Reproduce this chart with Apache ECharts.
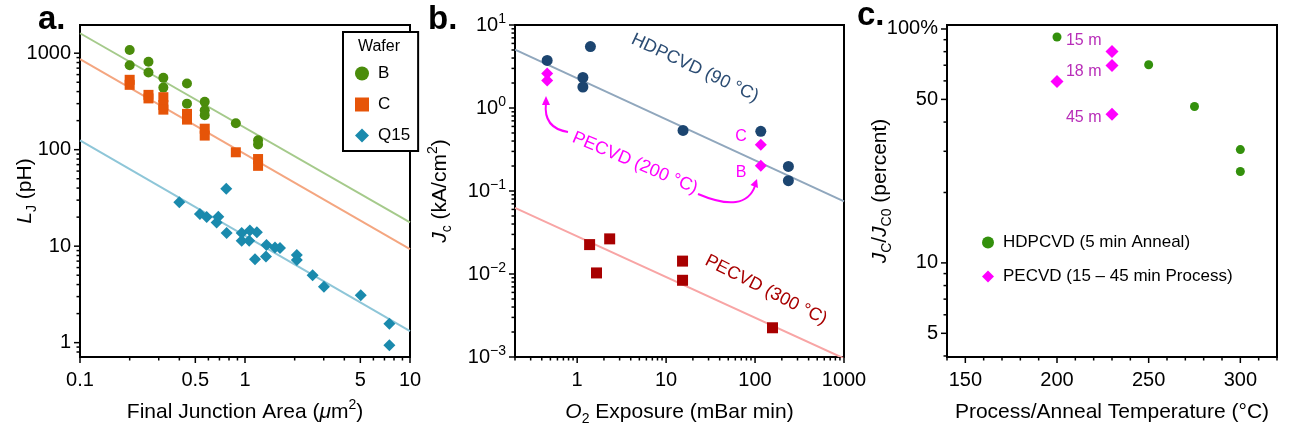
<!DOCTYPE html>
<html>
<head>
<meta charset="utf-8">
<title>Junction data</title>
<script src="https://cdn.jsdelivr.net/npm/echarts@6.0.0/dist/echarts.min.js"></script>
<style>
  html, body { margin: 0; padding: 0; background: #fff; }
  #chart { width: 1305px; height: 435px; }
</style>
</head>
<body>
<div id="chart"></div>
<script>
// ---- panel a: L_J vs final junction area ----
const areaB = [0.2, 0.2, 0.26, 0.26, 0.32, 0.32, 0.445, 0.445, 0.57, 0.57, 0.57, 0.88, 1.2, 1.2];
const ljB = [1080, 750, 815, 630, 555, 440, 485, 300, 313, 256, 228, 188, 125, 113];
const areaC = [0.2, 0.2, 0.26, 0.26, 0.32, 0.32, 0.32, 0.445, 0.445, 0.57, 0.57, 0.88, 1.2, 1.2];
const ljC = [530, 470, 370, 340, 350, 290, 260, 235, 205, 165, 140, 94, 80, 68];
const areaQ = [0.4, 0.533, 0.586, 0.673, 0.689, 0.77, 0.774, 0.955, 0.955, 1.07, 1.06, 1.18, 1.15,
  1.35, 1.34, 1.52, 1.63, 2.06, 2.06, 2.57, 3.01, 5.03, 7.5, 7.5];
const ljQ = [28.5, 21.5, 20, 17.6, 20.2, 39.3, 13.7, 13.7, 11.4, 14.5, 11.4, 13.9, 7.3,
  10.3, 7.8, 9.7, 9.6, 8.1, 7.2, 5.0, 3.8, 3.1, 1.57, 0.94];
const fitArea = [0.1, 10];
const fitB = [1610, 17.6];
const fitC = [870, 9.3];
const fitQ = [125, 1.32];

// ---- panel b: Jc vs O2 exposure ----
const expHD = [0.46, 1.41, 1.16, 1.16, 15.5, 116, 237, 237];
const jcHD = [3.74, 5.5, 2.33, 1.79, 0.537, 0.523, 0.198, 0.133];
const exp200 = [0.46, 0.46, 116, 116];
const jc200 = [2.6, 2.15, 0.362, 0.202];
const exp300 = [1.38, 2.32, 1.65, 15.3, 15.3, 157];
const jc300 = [0.0226, 0.0265, 0.0103, 0.0143, 0.0084, 0.00225];
const fitExp = [0.2, 1000];
const fitHD = [5.04, 0.075];
const fit300 = [0.0626, 0.00096];

// ---- panel c: Jc / Jc0 vs temperature ----
const tempHD = [200, 250, 275, 300, 300];
const ratioHD = [92.4, 70.3, 46.6, 30.5, 24.6];
const tempPE = [200, 230, 230, 230];
const ratioPE = [59.6, 80.2, 69.8, 43.2];
const timePE = ['', '15 m', '18 m', '45 m'];

// tick labels
const tickAreaVals = [0.1, 0.5, 1, 5, 10];
const tickAreaText = ['0.1', '0.5', '1', '5', '10'];
const tickLjVals = [1, 10, 100, 1000];
const tickLjText = ['1', '10', '100', '1000'];
const tickExpVals = [1, 10, 100, 1000];
const tickExpText = ['1', '10', '100', '1000'];
const tickJcVals = [0.001, 0.01, 0.1, 1, 10];
const tickJcExp = ['\u22123', '\u22122', '\u22121', '0', '1'];
const tickTempVals = [150, 200, 250, 300];
const tickTempText = ['150', '200', '250', '300'];
const tickRatioVals = [5, 10, 50, 100];
const tickRatioText = ['5', '10', '50', '100%'];

const FONT = '"Liberation Sans", Arial, sans-serif';
const pts = (xs, ys) => xs.map((x, i) => [x, ys[i]]);

function logTicks(lo, hi) {
  const out = [];
  for (let k = Math.floor(Math.log10(lo)); k <= Math.ceil(Math.log10(hi)); k++) {
    for (let d = 1; d <= 9; d++) {
      const v = +(d * Math.pow(10, k)).toPrecision(6);
      if (v >= lo * 0.999 && v <= hi * 1.001) out.push(v);
    }
  }
  return out;
}

function withLabels(vals, labVals, labTexts, rich) {
  return vals.map(v => {
    const i = labVals.findIndex(l => Math.abs(l - v) < 1e-9 * Math.max(1, Math.abs(v)));
    return { v: v, major: i >= 0, text: i >= 0 ? labTexts[i] : '', rich: rich && i >= 0 };
  });
}

// ticks + tick labels drawn through the axis scales
function tickSeries(gi, xMin, yMin, xTicks, yTicks) {
  const items = xTicks.map(t => Object.assign({ dim: 0 }, t))
    .concat(yTicks.map(t => Object.assign({ dim: 1 }, t)));
  return {
    type: 'custom', xAxisIndex: gi, yAxisIndex: gi, silent: true, clip: false, z: 10,
    data: items.map(() => [xMin, yMin]),
    renderItem: function (params, api) {
      const t = items[params.dataIndex];
      const len = t.major ? 6 : 3.5;
      const kids = [];
      const st = { stroke: '#000', lineWidth: 1.5 };
      if (t.dim === 0) {
        const p = api.coord([t.v, yMin]);
        kids.push({ type: 'line', shape: { x1: p[0], y1: p[1], x2: p[0], y2: p[1] + len }, style: st });
        if (t.text) kids.push({ type: 'text', x: p[0], y: p[1] + 13, style: {
          text: t.text, fill: '#000', fontSize: 20, fontFamily: FONT, align: 'center', verticalAlign: 'top' } });
      } else {
        const p = api.coord([xMin, t.v]);
        kids.push({ type: 'line', shape: { x1: p[0] - len, y1: p[1], x2: p[0], y2: p[1] }, style: st });
        if (t.text) kids.push({ type: 'text', x: p[0] - 9, y: p[1], style: t.rich ? {
          text: '10{s|' + t.text + '}', fill: '#000', fontSize: 20, fontFamily: FONT, lineHeight: 26,
          align: 'right', verticalAlign: 'middle',
          rich: { s: { fontSize: 14, lineHeight: 12, verticalAlign: 'top' } }
        } : {
          text: t.text, fill: '#000', fontSize: 20, fontFamily: FONT, align: 'right', verticalAlign: 'middle' } });
      }
      return { type: 'group', children: kids };
    }
  };
}

const nameStyle = {
  fontSize: 21, fontFamily: FONT, color: '#000', lineHeight: 28,
  rich: {
    i: { fontStyle: 'italic', fontSize: 21, lineHeight: 28 },
    sup: { fontSize: 14, lineHeight: 14, verticalAlign: 'top' },
    sub: { fontSize: 14, lineHeight: 14, verticalAlign: 'bottom' }
  }
};
const axisBase = {
  axisLine: { show: true, lineStyle: { color: '#000', width: 2 } },
  axisTick: { show: false },
  axisLabel: { show: false },
  splitLine: { show: false },
  nameLocation: 'middle',
  nameTextStyle: nameStyle
};
const ax = (o) => Object.assign({}, axisBase, o);

const xA = [0.1, 10], yA = [0.71, 1960];
const xB = [0.2, 1000], yB = [0.001, 10];
const xC = [140, 320], yC = [3.96, 104];

const tempTicks = [];
for (let t = xC[0]; t <= xC[1]; t += 10) tempTicks.push(t);

const chart = echarts.init(document.getElementById('chart'));
const option = {
  animation: false,
  textStyle: { fontFamily: FONT },
  grid: [
    { left: 80, top: 25, width: 330, height: 332, show: true, borderColor: '#000', borderWidth: 2 },
    { left: 515, top: 25, width: 329, height: 332, show: true, borderColor: '#000', borderWidth: 2 },
    { left: 947, top: 25, width: 330, height: 332, show: true, borderColor: '#000', borderWidth: 2 }
  ],
  xAxis: [
    ax({ type: 'log', gridIndex: 0, min: xA[0], max: xA[1], name: 'Final Junction Area ({i|\u03bc}m{sup|2})', nameGap: 41 }),
    ax({ type: 'log', gridIndex: 1, min: xB[0], max: xB[1], name: '{i|O}{sub|2} Exposure (mBar min)', nameGap: 41 }),
    ax({ type: 'value', gridIndex: 2, min: xC[0], max: xC[1], name: 'Process/Anneal Temperature (\u00b0C)', nameGap: 41 })
  ],
  yAxis: [
    ax({ type: 'log', gridIndex: 0, min: yA[0], max: yA[1], name: '{i|L}{sub|J} (pH)', nameGap: 41 }),
    ax({ type: 'log', gridIndex: 1, min: yB[0], max: yB[1], name: '{i|J}{sub|c} (kA/cm{sup|2})', nameGap: 61 }),
    ax({ type: 'log', gridIndex: 2, min: yC[0], max: yC[1], name: '{i|J}{sub|C}/{i|J}{sub|C0} (percent)', nameGap: 53 })
  ],
  legend: [
    {
      data: ['B', 'C', 'Q15'], orient: 'vertical', left: 343, top: 32,
      padding: [33, 8, 7, 12], itemGap: 14, itemWidth: 14, itemHeight: 14,
      borderColor: '#000', borderWidth: 2, backgroundColor: '#fff', z: 20,
      textStyle: { fontSize: 17, fontFamily: FONT, color: '#000', padding: [0, 0, 0, 4] }
    },
    {
      data: ['HDPCVD (5 min Anneal)', 'PECVD (15 \u2013 45 min Process)'], orient: 'vertical',
      left: 982, top: 234, padding: 0, itemGap: 17, itemWidth: 12, itemHeight: 12,
      textStyle: { fontSize: 17, fontFamily: FONT, color: '#000', padding: [0, 0, 0, 4] }
    }
  ],
  graphic: [
    { type: 'text', x: 38, y: 20, z: 100, style: { text: 'a.', fontSize: 33, fontWeight: 'bold', fontFamily: FONT, fill: '#000', verticalAlign: 'middle' } },
    { type: 'text', x: 428, y: 20, z: 100, style: { text: 'b.', fontSize: 33, fontWeight: 'bold', fontFamily: FONT, fill: '#000', verticalAlign: 'middle' } },
    { type: 'text', x: 857, y: 16, z: 100, style: { text: 'c.', fontSize: 33, fontWeight: 'bold', fontFamily: FONT, fill: '#000', verticalAlign: 'middle' } },
    { type: 'text', x: 379, y: 47, z: 100, style: { text: 'Wafer', fontSize: 16, fontFamily: FONT, fill: '#000', align: 'center', verticalAlign: 'middle' } },
    { type: 'text', x: 695, y: 68, rotation: -0.44, z: 100, style: { text: 'HDPCVD (90 \u00b0C)', fontSize: 18, fontFamily: FONT, fill: '#2b4c73', align: 'center', verticalAlign: 'middle' } },
    { type: 'text', x: 635, y: 163, rotation: -0.40, z: 100, style: { text: 'PECVD (200 \u00b0C)', fontSize: 18, fontFamily: FONT, fill: '#ff00ff', align: 'center', verticalAlign: 'middle' } },
    { type: 'text', x: 766, y: 290, rotation: -0.47, z: 100, style: { text: 'PECVD (300 \u00b0C)', fontSize: 18, fontFamily: FONT, fill: '#a80000', align: 'center', verticalAlign: 'middle' } },
    { type: 'text', x: 741, y: 137, z: 100, style: { text: 'C', fontSize: 16, fontFamily: FONT, fill: '#ff00ff', align: 'center', verticalAlign: 'middle' } },
    { type: 'text', x: 741, y: 173, z: 100, style: { text: 'B', fontSize: 16, fontFamily: FONT, fill: '#ff00ff', align: 'center', verticalAlign: 'middle' } },
    { type: 'bezierCurve', z: 100, shape: { x1: 568, y1: 132, cpx1: 543, cpy1: 128, x2: 546, y2: 103 }, style: { stroke: '#ff00ff', lineWidth: 2, fill: null } },
    { type: 'polygon', z: 100, shape: { points: [[546, 96], [542, 105], [550, 105]] }, style: { fill: '#ff00ff' } },
    { type: 'bezierCurve', z: 100, shape: { x1: 698, y1: 194, cpx1: 745, cpy1: 214, x2: 755, y2: 186 }, style: { stroke: '#ff00ff', lineWidth: 2, fill: null } },
    { type: 'polygon', z: 100, shape: { points: [[757, 179], [758, 188], [750.5, 185]] }, style: { fill: '#ff00ff' } }
  ],
  series: [
    // panel a
    { name: 'fitB', type: 'line', xAxisIndex: 0, yAxisIndex: 0, data: pts(fitArea, fitB), symbol: 'none', lineStyle: { color: '#a5ca8b', width: 2 }, z: 1 },
    { name: 'fitC', type: 'line', xAxisIndex: 0, yAxisIndex: 0, data: pts(fitArea, fitC), symbol: 'none', lineStyle: { color: '#f4a680', width: 2 }, z: 1 },
    { name: 'fitQ', type: 'line', xAxisIndex: 0, yAxisIndex: 0, data: pts(fitArea, fitQ), symbol: 'none', lineStyle: { color: '#8ec6d8', width: 2 }, z: 1 },
    { name: 'B', type: 'scatter', xAxisIndex: 0, yAxisIndex: 0, data: pts(areaB, ljB), symbol: 'circle', symbolSize: 10, itemStyle: { color: '#4a8c0b', opacity: 1 } },
    { name: 'C', type: 'scatter', xAxisIndex: 0, yAxisIndex: 0, data: pts(areaC, ljC), symbol: 'rect', symbolSize: 10, itemStyle: { color: '#e65408', opacity: 1 } },
    { name: 'Q15', type: 'scatter', xAxisIndex: 0, yAxisIndex: 0, data: pts(areaQ, ljQ), symbol: 'diamond', symbolSize: 12, itemStyle: { color: '#1a8aad', opacity: 1 } },
    // panel b
    { name: 'fitHD', type: 'line', xAxisIndex: 1, yAxisIndex: 1, data: pts(fitExp, fitHD), symbol: 'none', lineStyle: { color: '#90a7bd', width: 2 }, z: 1 },
    { name: 'fit300', type: 'line', xAxisIndex: 1, yAxisIndex: 1, data: pts(fitExp, fit300), symbol: 'none', lineStyle: { color: '#f8a5a5', width: 2 }, z: 1 },
    { name: 'HDPCVD (90 \u00b0C)', type: 'scatter', xAxisIndex: 1, yAxisIndex: 1, data: pts(expHD, jcHD), symbol: 'circle', symbolSize: 11, itemStyle: { color: '#1c4570', opacity: 1 } },
    { name: 'PECVD (200 \u00b0C)', type: 'scatter', xAxisIndex: 1, yAxisIndex: 1, data: pts(exp200, jc200), symbol: 'diamond', symbolSize: 12, itemStyle: { color: '#ff00ff', opacity: 1 } },
    { name: 'PECVD (300 \u00b0C)', type: 'scatter', xAxisIndex: 1, yAxisIndex: 1, data: pts(exp300, jc300), symbol: 'rect', symbolSize: 11, itemStyle: { color: '#a80000', opacity: 1 } },
    // panel c
    { name: 'HDPCVD (5 min Anneal)', type: 'scatter', xAxisIndex: 2, yAxisIndex: 2, data: pts(tempHD, ratioHD), symbol: 'circle', symbolSize: 9, itemStyle: { color: '#33900c', opacity: 1 } },
    {
      name: 'PECVD (15 \u2013 45 min Process)', type: 'scatter', xAxisIndex: 2, yAxisIndex: 2, symbol: 'diamond', symbolSize: 13,
      itemStyle: { color: '#ff00ff', opacity: 1 },
      data: tempPE.map((t, i) => ({
        value: [t, ratioPE[i]],
        label: {
          show: !!timePE[i], formatter: timePE[i], position: 'left', distance: 4,
          offset: [0, [0, -11, 6, 3][i]], color: '#b82db8', fontSize: 16, fontFamily: FONT
        }
      }))
    },
    // axis ticks
    tickSeries(0, xA[0], yA[0], withLabels(logTicks(xA[0], xA[1]), tickAreaVals, tickAreaText), withLabels(logTicks(yA[0], yA[1]), tickLjVals, tickLjText)),
    tickSeries(1, xB[0], yB[0], withLabels(logTicks(xB[0], xB[1]), tickExpVals, tickExpText), withLabels(logTicks(yB[0], yB[1]), tickJcVals, tickJcExp, true)),
    tickSeries(2, xC[0], yC[0], withLabels(tempTicks, tickTempVals, tickTempText), withLabels(logTicks(yC[0], yC[1]), tickRatioVals, tickRatioText))
  ]
};
chart.setOption(option);

window.addEventListener('resize', function () {
  chart.resize();
});
</script>
</body>
</html>
